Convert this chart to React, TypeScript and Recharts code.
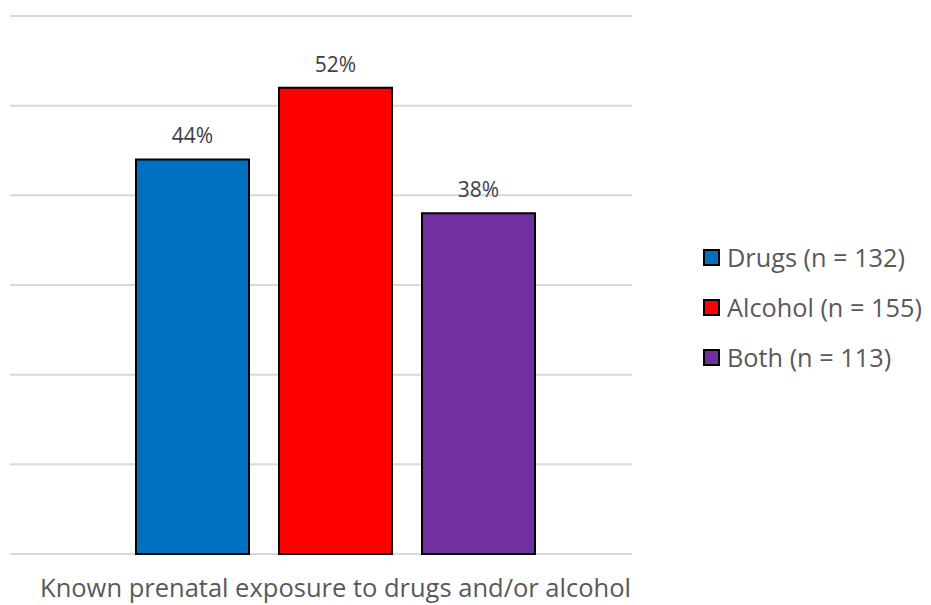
import React from "react";
import { BarChart, Bar, XAxis, YAxis, CartesianGrid, LabelList, Legend } from "recharts";

// share of children per exposure group (%)
const groups = ["Drugs (n = 132)", "Alcohol (n = 155)", "Both (n = 113)"];
const keys = ["drugs", "alcohol", "both"];
const values = [44, 52, 38];
const colors = ["#0070C0", "#FF0000", "#7030A0"];
const yTicks = [0, 10, 20, 30, 40, 50, 60];
const category = "Known prenatal exposure to drugs and/or alcohol";

const row: Record<string, string | number> = { name: category };
keys.forEach((k, i) => {
  row[k] = values[i];
});
const data = [row];

const FONT = "'Open Sans', sans-serif";

function LegendBox() {
  return (
    <div style={{ fontFamily: FONT, fontSize: 25.3, color: "#595959" }}>
      {groups.map((g, i) => (
        <div key={g} style={{ display: "flex", alignItems: "center", height: 50 }}>
          <span
            style={{
              width: 13,
              height: 13,
              background: colors[i],
              border: "2px solid #000",
              marginRight: 7,
              display: "inline-block",
            }}
          />
          <span>{g}</span>
        </div>
      ))}
    </div>
  );
}

export default function App() {
  return (
    <div style={{ width: 931, height: 605, background: "#fff" }}>
      <style>{`body{margin:0}`}</style>
      <BarChart
        width={931}
        height={605}
        data={data}
        margin={{ top: 16, right: 299, bottom: 0, left: 10 }}
        barGap={30}
        barSize={113}
        style={{ overflow: "visible" }}
      >
        <CartesianGrid vertical={false} stroke="#d9d9d9" strokeWidth={2} />
        <XAxis
          dataKey="name"
          height={51}
          axisLine={false}
          tickLine={false}
          tickSize={0}
          tickMargin={25}
          padding={{ left: 29, right: 0 }}
          tick={{ fontSize: 25.5, fill: "#595959", fontFamily: FONT }}
        />
        <YAxis hide domain={[0, 60]} ticks={yTicks} />
        <Legend
          verticalAlign="middle"
          layout="horizontal"
          content={() => <LegendBox />}
          wrapperStyle={{ position: "absolute", left: 703, top: 232, width: 228 }}
        />
        {keys.map((k, i) => (
          <Bar
            key={k}
            dataKey={k}
            name={groups[i]}
            fill={colors[i]}
            stroke="#000"
            strokeWidth={2}
            isAnimationActive={false}
          >
            <LabelList
              dataKey={k}
              position="top"
              offset={16}
              formatter={(v: any) => `${v}%`}
              style={{ fontSize: 21, fill: "#404040", fontFamily: FONT }}
            />
          </Bar>
        ))}
      </BarChart>
    </div>
  );
}
